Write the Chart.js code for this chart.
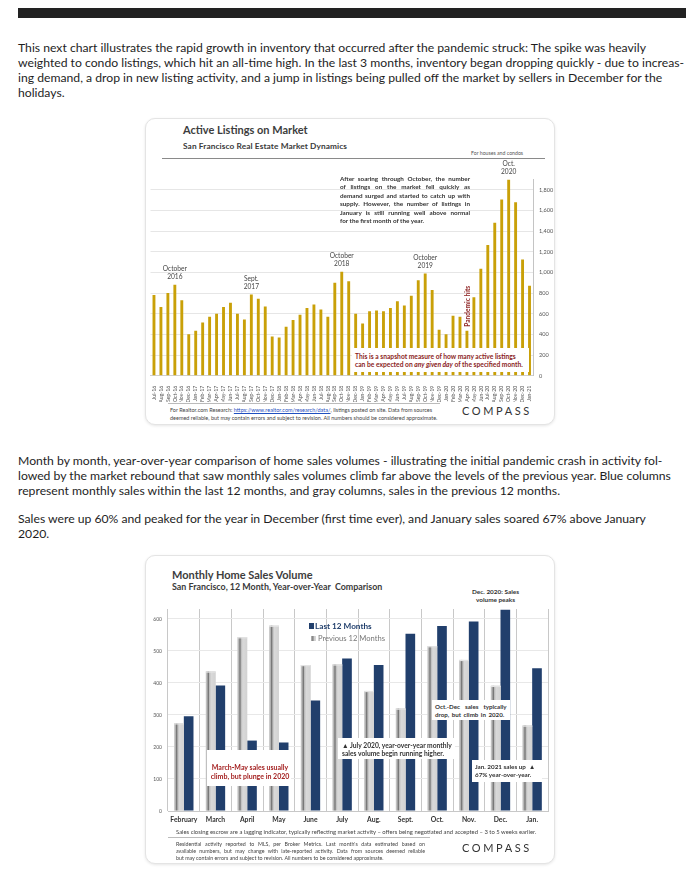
<!DOCTYPE html>
<html lang="en">
<head>
<meta charset="utf-8">
<title>Active Listings and Monthly Sales Volume</title>
<script src="https://cdn.jsdelivr.net/npm/chart.js@4.4.1/dist/chart.umd.min.js"></script>
<style>
  * { margin: 0; padding: 0; box-sizing: border-box; }
  body { width: 700px; height: 894px; background: #fff; position: relative; overflow: hidden;
         font-family: Lato, "Open Sans", sans-serif; color: #1e1e1e; }
  .topbar { position: absolute; left: 18px; top: 8px; width: 668px; height: 10px; background: #222; }
  .para { position: absolute; left: 18px; font-size: 12px; line-height: 15px; white-space: nowrap; }
  .card { position: absolute; left: 145px; width: 410px; background: #fff; border: 1px solid #e4e4e4;
          border-radius: 10px; box-shadow: 0 1px 3px rgba(0,0,0,0.10); }
  .t { position: absolute; white-space: nowrap; line-height: 1; }
  canvas { position: absolute; }
  .note { position: absolute; background: #fff; white-space: nowrap; }
  .compass { position: absolute; font-size: 11px; letter-spacing: 2.6px; color: #333; font-weight: 400; }
  .just div { text-align: justify; text-align-last: justify; white-space: normal; }
  .just div:last-child { text-align-last: left; }
</style>
</head>
<body>
<div class="topbar"></div>

<div class="para" id="p1" style="top:40px">
  <div>This next chart illustrates the rapid growth in inventory that occurred after the pandemic struck: The spike was heavily</div>
  <div class="fit">weighted to condo listings, which hit an all-time high. In the last 3 months, inventory began dropping quickly - due to increas-</div>
  <div>ing demand, a drop in new listing activity, and a jump in listings being pulled off the market by sellers in December for the</div>
  <div>holidays.</div>
</div>

<div class="card" style="top:118px;height:307px"></div>
<div class="t" style="left:183px;top:124px;font-size:11px;font-weight:700;color:#3d3d3d">Active Listings on Market</div>
<div class="t" style="left:183px;top:142px;font-size:8.3px;font-weight:700;color:#3a3a3a;letter-spacing:0.1px">San Francisco Real Estate Market Dynamics</div>
<div style="position:absolute;left:162px;top:158px;width:383px;height:1px;background:#8a8a8a"></div>
<div class="t" style="left:471px;top:151px;font-size:5.2px;color:#555">For houses and condos</div>
<canvas id="listings" width="410" height="242" style="left:145px;top:160px;width:410px;height:242px"></canvas>
<div class="t just" style="left:340px;top:175px;width:130px;font-size:6.3px;line-height:8.4px;font-weight:700;color:#333">
  <div>After soaring through October, the number</div>
  <div>of listings on the market fell quickly as</div>
  <div>demand surged and started to catch up with</div>
  <div>supply. However, the number of listings in</div>
  <div>January is still running well above normal</div>
  <div>for the first month of the year.</div>
</div>
<div class="note" style="left:352px;top:348px;width:177px;height:24px;padding:3.5px 0 0 3px;font-size:6.7px;line-height:8.8px;font-weight:700;color:#8b1d1d">This is a snapshot measure of how many active listings<br>can be expected on <i>any given day</i> of the specified month.</div>
<div style="position:absolute;left:168px;top:403px;width:272px;height:1px;background:#bbb"></div>
<div class="t" style="left:170px;top:407px;font-size:5.5px;line-height:7.8px;color:#444">For Realtor.com Research: <span style="color:#1f4fbf;text-decoration:underline">https://www.realtor.com/research/data/</span>, listings posted on site. Data from sources<br>deemed reliable, but may contain errors and subject to revision. All numbers should be considered approximate.</div>
<div class="compass" style="left:462px;top:404px">COMPASS</div>

<div class="para" id="p2" style="top:453px">
  <div>Month by month, year-over-year comparison of home sales volumes - illustrating the initial pandemic crash in activity fol-</div>
  <div>lowed by the market rebound that saw monthly sales volumes climb far above the levels of the previous year. Blue columns</div>
  <div>represent monthly sales within the last 12 months, and gray columns, sales in the previous 12 months.</div>
  <div style="height:13px"></div>
  <div>Sales were up 60% and peaked for the year in December (first time ever), and January sales soared 67% above January</div>
  <div>2020.</div>
</div>

<div class="card" style="top:555px;height:309px"></div>
<div class="t" style="left:172px;top:569px;font-size:11px;font-weight:700;color:#3d3d3d">Monthly Home Sales Volume</div>
<div class="t" style="left:172px;top:583px;font-size:8.9px;font-weight:700;color:#3a3a3a">San Francisco, 12 Month, Year-over-Year&nbsp; Comparison</div>
<div class="t" style="left:472px;top:588px;width:47px;text-align:center;font-size:6.4px;line-height:8px;font-weight:700;color:#333">Dec. 2020: Sales<br>volume peaks</div>
<canvas id="sales" width="410" height="230" style="left:145px;top:600px;width:410px;height:230px"></canvas>
<div class="t" style="left:309px;top:622px;font-size:8.2px;color:#213f6c;font-weight:700"><span style="display:inline-block;width:5px;height:6px;background:#213f6c;margin-right:1px"></span>Last 12 Months</div>
<div class="t" style="left:311px;top:635px;font-size:7.6px;color:#777"><span style="display:inline-block;width:5px;height:5px;background:linear-gradient(90deg,#bbb,#777 40%,#ccc 60%,#d8d8d8);margin-right:2px"></span>Previous 12 Months</div>
<div class="note" style="left:432px;top:700px;width:78px;height:20px;padding:2.5px 0 0 3px;font-size:6.2px;line-height:8px;font-weight:700;color:#333;word-spacing:1px">Oct.-Dec&nbsp; sales&nbsp; typically<br>drop, but climb in 2020.</div>
<div class="note" style="left:338px;top:738px;width:117px;height:21px;padding:3px 0 0 4px;font-size:6.7px;line-height:8px;font-weight:700;color:#333">&#9650; July 2020, year-over-year monthly<br>sales volume begin running higher.</div>
<div class="note" style="left:207px;top:750px;width:84px;height:36px;padding:13px 0 0 2px;font-size:7px;line-height:8.6px;font-weight:700;color:#a31f1f;text-align:center">March-May sales usually<br>climb, but plunge in 2020</div>
<div class="note" style="left:472px;top:760px;width:70px;height:22px;padding:3px 0 0 3px;font-size:6.3px;line-height:8px;font-weight:700;color:#333">Jan. 2021 sales up &nbsp;&#9650;<br>67% year-over-year.</div>
<div class="t" style="left:176px;top:829px;font-size:5.9px;color:#444">Sales closing escrow are a lagging indicator, typically reflecting market activity – offers being negotiated and accepted – 3 to 5 weeks earlier.</div>
<div style="position:absolute;left:168px;top:837px;width:262px;height:1px;background:#bbb"></div>
<div class="t just" style="left:176px;top:841px;width:249px;font-size:5.3px;line-height:6.8px;color:#444">
  <div>Residential activity reported to MLS, per Broker Metrics. Last month's data estimated based on</div>
  <div>available numbers, but may change with late-reported activity. Data from sources deemed reliable</div>
  <div>but may contain errors and subject to revision. All numbers to be considered approximate.</div>
</div>
<div class="compass" style="left:462px;top:841px">COMPASS</div>

<script>
// ---- fit paragraph font size to the reference line width
(function () {
  const ref = document.querySelector('#p1 .fit');
  const w = ref.getBoundingClientRect().width;
  const size = 12 * 667 / w;
  document.querySelectorAll('.para').forEach(p => p.style.fontSize = size + 'px');
})();

// ---- Active listings data
const months = [
  'Jul-16','Aug-16','Sep-16','Oct-16','Nov-16','Dec-16',
  'Jan-17','Feb-17','Mar-17','Apr-17','May-17','Jun-17','Jul-17','Aug-17','Sep-17','Oct-17','Nov-17','Dec-17',
  'Jan-18','Feb-18','Mar-18','Apr-18','May-18','Jun-18','Jul-18','Aug-18','Sep-18','Oct-18','Nov-18','Dec-18',
  'Jan-19','Feb-19','Mar-19','Apr-19','May-19','Jun-19','Jul-19','Aug-19','Sep-19','Oct-19','Nov-19','Dec-19',
  'Jan-20','Feb-20','Mar-20','Apr-20','May-20','Jun-20','Jul-20','Aug-20','Sep-20','Oct-20','Nov-20','Dec-20',
  'Jan-21'
];
const activeListings = [
  780, 665, 800, 880, 730, 400,
  435, 515, 570, 600, 665, 705, 600, 545, 785, 745, 670, 380,
  370, 475, 540, 590, 655, 690, 640, 570, 900, 1005, 915, 600,
  505, 625, 630, 625, 655, 720, 680, 775, 925, 990, 830, 445,
  400, 580, 570, 435, 760, 1035, 1265, 1480, 1705, 1900, 1680, 1125,
  870
];
const peakNotes = [
  { month: 'Oct-16', text: ['October', '2016'] },
  { month: 'Sep-17', text: ['Sept.', '2017'] },
  { month: 'Oct-18', text: ['October', '2018'] },
  { month: 'Oct-19', text: ['October', '2019'] },
  { month: 'Oct-20', text: ['Oct.', '2020'] }
];

// ---- Monthly sales data
const salesMonths = ['February','March','April','May','June','July','Aug.','Sept.','Oct.','Nov.','Dec.','Jan.'];
const previous12 = [274, 436, 543, 579, 456, 458, 375, 320, 515, 472, 391, 267];
const last12 = [296, 392, 220, 214, 345, 476, 456, 554, 578, 592, 629, 446];

const gold = '#c9a008';
const navy = '#213f6c';

const listingNotes = {
  id: 'listingNotes',
  afterDatasetsDraw(chart) {
    const ctx = chart.ctx;
    const meta = chart.getDatasetMeta(0);
    ctx.save();
    ctx.fillStyle = '#454545';
    ctx.font = '6.6px Lato';
    ctx.textAlign = 'center';
    ctx.textBaseline = 'middle';
    peakNotes.forEach(n => {
      const bar = meta.data[months.indexOf(n.month)];
      ctx.fillText(n.text[0], bar.x, bar.y - 15.5);
      ctx.fillText(n.text[1], bar.x, bar.y - 7.5);
    });
    const p = meta.data[months.indexOf('Apr-20')];
    ctx.translate(p.x + 0.5, p.y - 4);
    ctx.rotate(-Math.PI / 2);
    ctx.textAlign = 'left';
    ctx.font = 'bold 6.6px Lato';
    ctx.fillStyle = '#8b1d1d';
    ctx.fillText('Pandemic hits', 0, 0);
    ctx.restore();
  }
};

new Chart(document.getElementById('listings'), {
  type: 'bar',
  data: {
    labels: months,
    datasets: [{ data: activeListings, backgroundColor: gold, barPercentage: 0.9, categoryPercentage: 0.46 }]
  },
  options: {
    responsive: false,
    animation: false,
    layout: { padding: { left: 5.5, right: 0, top: 19.4, bottom: 0 } },
    plugins: { legend: { display: false }, tooltip: { enabled: false } },
    scales: {
      x: {
        grid: { display: false },
        border: { color: '#d0d0d0' },
        ticks: { autoSkip: false, minRotation: 90, maxRotation: 90, padding: 2, color: '#555', font: { size: 5.2, family: 'Lato' } },
        afterFit: s => { s.height = 26.3; }
      },
      y: {
        position: 'right',
        min: 0, max: 1900,
        afterBuildTicks: s => { s.ticks = s.ticks.filter(t => t.value % 200 === 0); },
        grid: { color: '#e6e6e6', drawTicks: false },
        border: { color: '#c4c4c4' },
        ticks: { stepSize: 200, padding: 6, color: '#555', font: { size: 5.6, family: 'Lato' } },
        afterFit: s => { s.width = 22; }
      }
    }
  },
  plugins: [listingNotes]
});

// draws the cylinder shading on the gray columns
const cylinderShade = {
  id: 'cylinderShade',
  afterDatasetDraw(chart, args) {
    if (args.index !== 0) return;
    const ctx = chart.ctx;
    ctx.save();
    args.meta.data.forEach(bar => {
      const { x, y, base, width } = bar.getProps(['x', 'y', 'base', 'width'], true);
      const x0 = x - width / 2;
      const g = ctx.createLinearGradient(x0, 0, x0 + width, 0);
      g.addColorStop(0, '#cfcfcf');
      g.addColorStop(0.14, '#b0b0b0');
      g.addColorStop(0.26, '#6e6e6e');
      g.addColorStop(0.38, '#bdbdbd');
      g.addColorStop(0.55, '#d9d9d9');
      g.addColorStop(1, '#d2d2d2');
      ctx.fillStyle = g;
      ctx.fillRect(x0, y, width, base - y);
      ctx.fillStyle = '#e4e4e4';
      ctx.fillRect(x0, y, width, 1.2);
    });
    ctx.restore();
  }
};

new Chart(document.getElementById('sales'), {
  type: 'bar',
  data: {
    labels: salesMonths,
    datasets: [
      { label: 'Previous 12 Months', data: previous12, backgroundColor: '#d4d4d4', barPercentage: 1, categoryPercentage: 0.61 },
      { label: 'Last 12 Months', data: last12, backgroundColor: navy, barPercentage: 1, categoryPercentage: 0.61 }
    ]
  },
  options: {
    responsive: false,
    animation: false,
    layout: { padding: { left: 0, right: 7, top: 6.7, bottom: 0 } },
    plugins: { legend: { display: false }, tooltip: { enabled: false } },
    scales: {
      x: {
        grid: { display: true, offset: true, color: '#c8c8c8', drawTicks: false },
        border: { color: '#c8c8c8' },
        ticks: { autoSkip: false, maxRotation: 0, minRotation: 0, padding: 5, color: '#333', font: { size: 6.8, weight: 'bold', family: 'Lato' } },
        afterFit: s => { s.height = 19; }
      },
      y: {
        min: 0, max: 631,
        afterBuildTicks: s => { s.ticks = s.ticks.filter(t => t.value % 100 === 0); },
        grid: { color: '#e8e8e8', drawTicks: false },
        border: { display: false },
        ticks: { stepSize: 100, padding: 6, color: '#555', font: { size: 5, family: 'Lato' } },
        afterFit: s => { s.width = 23; }
      }
    }
  },
  plugins: [cylinderShade]
});
</script>
</body>
</html>
